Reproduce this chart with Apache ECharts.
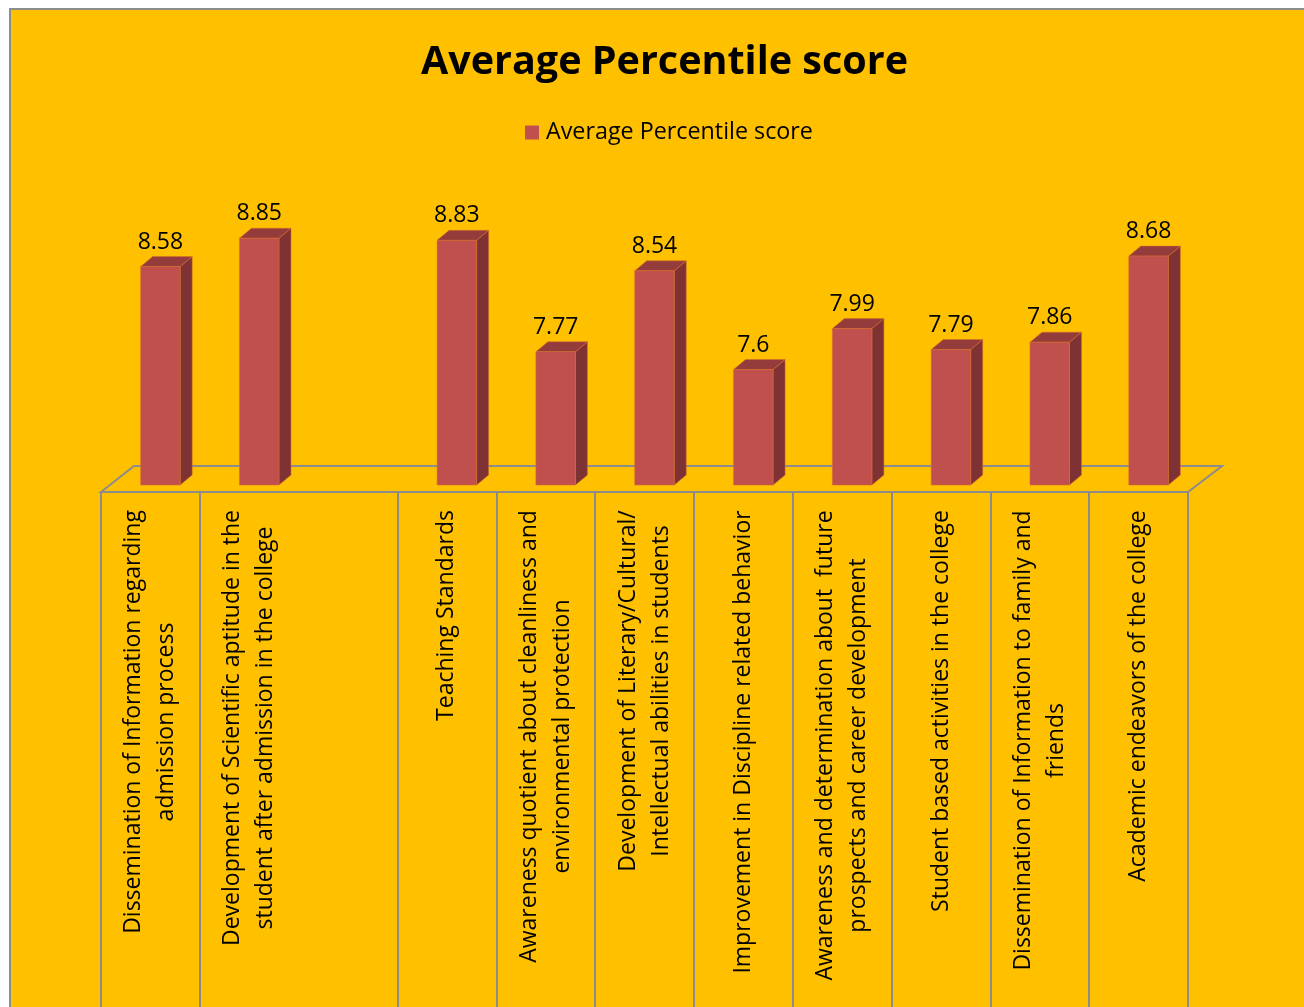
<!DOCTYPE html>
<html>
<head>
<meta charset="utf-8">
<script src="https://cdn.jsdelivr.net/npm/echarts@6/dist/echarts.min.js"></script>
<style>
  html, body { margin: 0; padding: 0; background: #fff; }
  #chart { width: 1304px; height: 1007px; }
</style>
</head>
<body>
<div id="chart"></div>
<script>
var categories = [
  'Dissemination of Information regarding\nadmission process',
  'Development of Scientific aptitude in the\nstudent after admission in the college',
  '',
  'Teaching Standards',
  'Awareness quotient about cleanliness and\nenvironmental protection',
  'Development of Literary/Cultural/\nIntellectual abilities in students',
  'Improvement in Discipline related behavior',
  'Awareness and determination about  future\nprospects and career development',
  'Student based activities in the college',
  'Dissemination of Information to family and\nfriends',
  'Academic endeavors of the college'
];
var scores = [8.58, 8.85, null, 8.83, 7.77, 8.54, 7.6, 7.99, 7.79, 7.86, 8.68];
var seriesName = 'Average Percentile score';
var yMin = 6.5;
var yMax = 9;

var myChart = echarts.init(document.getElementById('chart'));

// measure longest line of each label so the lines can be centred on each other
var ctx = document.createElement('canvas').getContext('2d');
ctx.font = '23px "Open Sans"';
var rich = {};
categories.forEach(function (c, i) {
  var w = 0;
  c.split('\n').forEach(function (l) {
    w = Math.max(w, ctx.measureText(l).width);
  });
  rich['c' + i] = {
    width: Math.ceil(w) + 2,
    align: 'center',
    lineHeight: 33,
    fontSize: 23,
    fontFamily: 'Open Sans',
    color: '#000'
  };
});

var barData = [];
scores.forEach(function (v, i) {
  if (v != null) barData.push([i, v]);
});

// 3d look of the bars
var depthX = 12, depthY = 10, shiftX = 10;

function renderBar(params, api) {
  var v = api.value(1);
  var top = api.coord([api.value(0), v]);
  var base = api.coord([api.value(0), yMin]);
  var bw = api.size([1, 0])[0] * 0.4;
  var x0 = top[0] + shiftX - bw / 2;
  var x1 = x0 + bw;
  var edge = 'rgba(214,110,50,0.55)';
  return {
    type: 'group',
    children: [
      {
        type: 'polygon',
        shape: { points: [[x1, top[1]], [x1 + depthX, top[1] - depthY], [x1 + depthX, base[1] - depthY], [x1, base[1]]] },
        style: { fill: '#7F3233', stroke: edge, lineWidth: 1 }
      },
      {
        type: 'polygon',
        shape: { points: [[x0, top[1]], [x0 + depthX, top[1] - depthY], [x1 + depthX, top[1] - depthY], [x1, top[1]]] },
        style: { fill: '#943C3B', stroke: edge, lineWidth: 1 }
      },
      {
        type: 'rect',
        shape: { x: x0, y: top[1], width: bw, height: base[1] - top[1] },
        style: { fill: '#C0504D', stroke: edge, lineWidth: 1 }
      },
      {
        type: 'text',
        style: {
          text: String(v),
          x: (x0 + x1) / 2,
          y: top[1] - 13,
          align: 'center',
          verticalAlign: 'bottom',
          fontSize: 23,
          fontFamily: 'Open Sans',
          fill: '#000'
        }
      }
    ]
  };
}

function renderFloor(params, api) {
  var half = api.size([1, 0])[0] / 2;
  var l = api.coord([0, yMin]);
  var r = api.coord([categories.length - 1, yMin]);
  var yf = l[1] + 7, yb = yf - 26;
  return {
    type: 'polygon',
    shape: { points: [[l[0] - half, yf], [r[0] + half, yf], [r[0] + half + 34, yb], [l[0] - half + 33, yb]] },
    style: { fill: 'none', stroke: '#8C8C8C', lineWidth: 2 }
  };
}

var option = {
  backgroundColor: '#fff',
  animation: false,
  graphic: [{
    type: 'rect',
    z: -10,
    shape: { x: 10, y: 9, width: 1400, height: 1100 },
    style: { fill: '#FFC000', stroke: '#8C8C8C', lineWidth: 2 }
  }],
  title: {
    text: 'Average Percentile score',
    left: 421,
    top: 43,
    padding: 0,
    textStyle: { fontFamily: 'Open Sans', fontSize: 39.5, fontWeight: 'bold', color: '#000' }
  },
  legend: {
    data: [{ name: seriesName, icon: 'rect' }],
    left: 520,
    top: 116,
    itemWidth: 14,
    itemHeight: 14,
    textStyle: { fontFamily: 'Open Sans', fontSize: 23.3, color: '#000', padding: [0, 0, 0, 2] }
  },
  grid: {
    left: 101,
    right: 116,
    top: 222.5,
    bottom: 522,
    outerBoundsMode: 'none'
  },
  xAxis: {
    type: 'category',
    data: categories,
    offset: 7,
    axisLine: { show: false },
    axisTick: {
      show: true,
      length: 530,
      interval: function (index) { return index !== 2; },
      lineStyle: { color: '#8C8C8C', width: 2 }
    },
    axisLabel: {
      interval: 0,
      rotate: 90,
      margin: 17,
      formatter: function (value, index) {
        if (!value) return '';
        return value.split('\n').map(function (l) { return '{c' + index + '|' + l + '}'; }).join('\n');
      },
      rich: rich
    }
  },
  yAxis: {
    type: 'value',
    min: yMin,
    max: yMax,
    show: false
  },
  series: [
    {
      type: 'custom',
      renderItem: renderFloor,
      data: [[0, yMin]],
      silent: true,
      z: 1
    },
    {
      name: seriesName,
      type: 'custom',
      renderItem: renderBar,
      itemStyle: { color: '#C0504D' },
      data: barData,
      z: 3
    }
  ]
};

myChart.setOption(option);
</script>
</body>
</html>
